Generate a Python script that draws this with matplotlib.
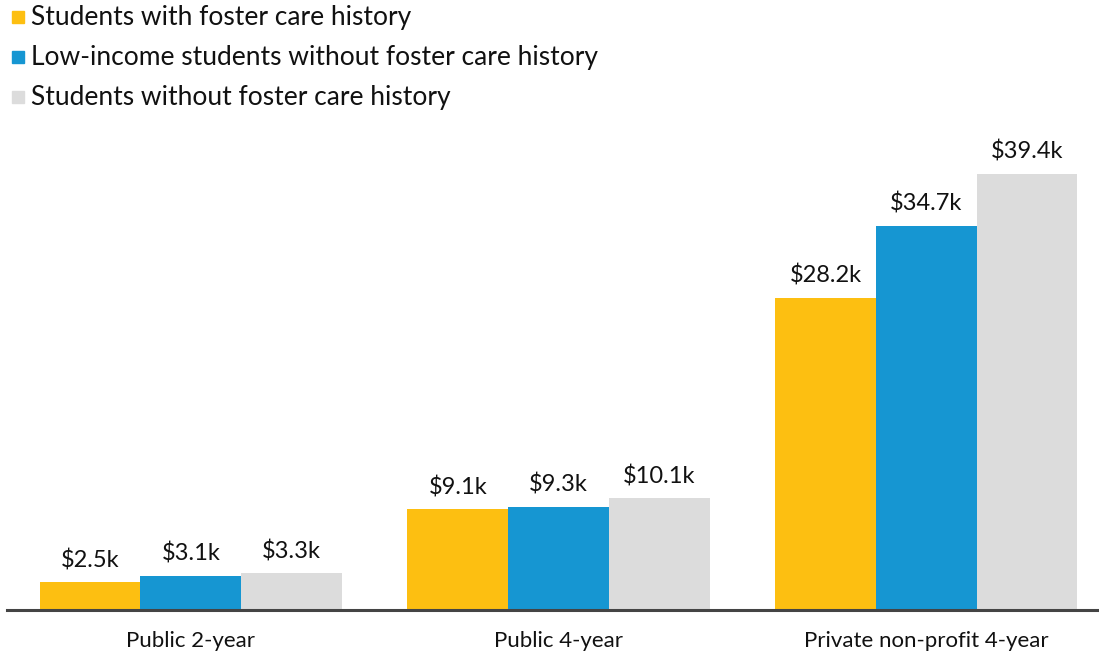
import numpy as np
import matplotlib.pyplot as plt
from matplotlib.patches import Rectangle

plt.rcParams['font.family'] = ['Lato', 'DejaVu Sans']

categories = ['Public 2-year', 'Public 4-year', 'Private non-profit 4-year']
series_names = ['Students with foster care history',
                'Low-income students without foster care history',
                'Students without foster care history']
foster = [2.5, 9.1, 28.2]
lowincome = [3.1, 9.3, 34.7]
nonfoster = [3.3, 10.1, 39.4]
colors = ['#fdbf11', '#1696d2', '#dcdcdc']

fig = plt.figure(figsize=(10.99, 6.56), dpi=100)
ax = fig.add_axes([7 / 1099, 46 / 656, 1092 / 1099, 498 / 656])

x = np.arange(len(categories))
w = 0.274
for i, vals in enumerate([foster, lowincome, nonfoster]):
    bars = ax.bar(x + (i - 1) * w, vals, width=w, color=colors[i])
    for b, v in zip(bars, vals):
        ax.annotate('$%.1fk' % v, (b.get_x() + b.get_width() / 2, v),
                    xytext=(0, 8), textcoords='offset points',
                    ha='center', va='bottom', fontsize=17, color='#111111')

ax.set_xlim(-0.5, 2.47)
ax.set_ylim(0, 45)
ax.set_yticks([])
for s in ['top', 'left', 'right']:
    ax.spines[s].set_visible(False)
ax.spines['bottom'].set_linewidth(2.2)
ax.spines['bottom'].set_color('#444444')
ax.set_xticks(x)
ax.set_xticklabels(categories, fontsize=16, color='#111111')
ax.tick_params(axis='x', length=0, pad=15)

# legend
for i, name in enumerate(series_names):
    yc = 17 + 40 * i
    fig.patches.append(Rectangle((12 / 1099, 1 - (yc + 6) / 656), 12 / 1099, 12 / 656,
                                 transform=fig.transFigure, color=colors[i]))
    fig.text(31 / 1099, 1 - yc / 656, name, fontsize=19, va='center',
             ha='left', color='#111111')

plt.savefig('out.png', dpi=100)
